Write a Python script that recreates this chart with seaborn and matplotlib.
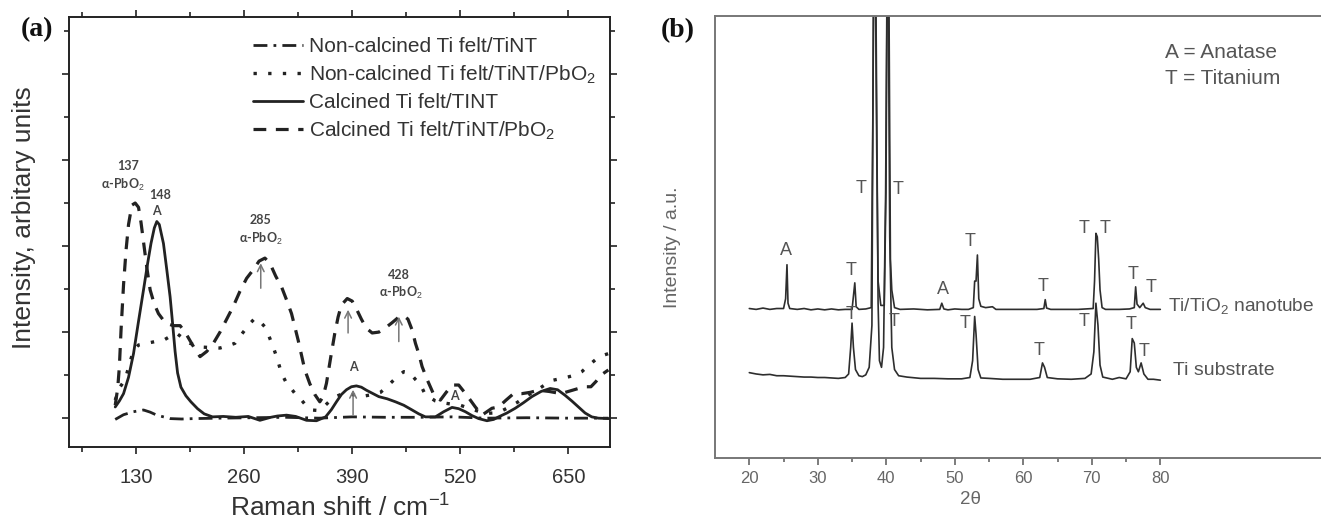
import matplotlib
matplotlib.use("Agg")
import matplotlib.pyplot as plt
import seaborn as sns

# ---------------- Panel (a) data: Raman spectra ----------------
nc_tint_x = [105, 115, 127, 139, 147, 155, 163, 171, 185, 200, 230, 270, 310, 350, 390, 430, 470, 510, 550, 600, 650, 698]
nc_tint_y = [-0.03, 0.08, 0.15, 0.19, 0.14, 0.07, 0.03, -0.01, -0.02, -0.01, 0.0, 0.01, 0.02, 0.0, 0.03, 0.02, 0.02, 0.03, 0.0, 0.01, 0.0, 0.0]

nc_pbo2_x = [105, 110, 117, 122, 127, 133, 143, 153, 163, 171, 179, 187, 195, 203, 211, 221, 231, 240, 249, 255, 261, 267,
             273, 279, 285, 290, 295, 299, 305, 310, 315, 322, 329, 335, 341, 348, 355, 362, 370, 380, 390, 398, 406, 415,
             424, 431, 438, 445, 452, 459, 466, 472, 477, 482, 490, 498, 508, 520, 535, 550, 560, 568, 578, 588, 600, 612,
             622, 631, 641, 650, 658, 666, 674, 682, 690, 698]
nc_pbo2_y = [0.42, 0.7, 0.9, 1.25, 1.58, 1.7, 1.74, 1.78, 1.81, 1.9, 1.97, 1.85, 1.74, 1.68, 1.65, 1.64, 1.63, 1.68, 1.74, 1.9,
             2.05, 2.2, 2.32, 2.25, 2.12, 1.9, 1.65, 1.43, 1.04, 0.85, 0.73, 0.55, 0.42, 0.28, 0.19, 0.18, 0.25, 0.38, 0.5,
             0.58, 0.55, 0.5, 0.52, 0.55, 0.6, 0.72, 0.85, 0.98, 1.08, 1.06, 0.9, 0.78, 0.58, 0.5, 0.4, 0.36, 0.33, 0.3, 0.2,
             0.11, 0.12, 0.15, 0.25, 0.36, 0.52, 0.65, 0.78, 0.88, 0.92, 0.96, 1.0, 1.08, 1.22, 1.35, 1.45, 1.5]

c_tint_x = [105, 110, 115, 121, 127, 133, 139, 144, 148, 152, 155, 158, 163, 167, 171, 174, 177, 180, 184, 190, 196, 204,
            212, 222, 235, 250, 265, 279, 292, 300, 311, 322, 335, 347, 358, 365, 371, 377, 383, 389, 395, 401, 407, 415,
            422, 432, 442, 452, 462, 470, 478, 490, 500, 510, 518, 526, 534, 542, 552, 560, 566, 576, 586, 596, 606, 617,
            628, 637, 646, 654, 662, 670, 678, 686, 699]
c_tint_y = [0.26, 0.4, 0.57, 0.95, 1.5, 2.25, 2.98, 3.6, 4.06, 4.42, 4.57, 4.5, 4.06, 3.45, 2.82, 2.2, 1.55, 1.05, 0.72, 0.52,
            0.38, 0.22, 0.1, 0.03, 0.04, 0.02, 0.04, -0.05, 0.02, 0.05, 0.07, 0.04, -0.05, -0.06, 0.03, 0.2, 0.38, 0.55,
            0.66, 0.73, 0.75, 0.72, 0.65, 0.57, 0.5, 0.45, 0.38, 0.3, 0.19, 0.1, 0.03, 0.03, 0.15, 0.25, 0.22, 0.15, 0.06,
            -0.01, -0.06, -0.03, 0.03, 0.12, 0.23, 0.36, 0.5, 0.62, 0.69, 0.66, 0.53, 0.4, 0.26, 0.12, 0.03, 0.0, -0.01]

c_pbo2_x = [105, 108, 110, 112, 115, 118, 121, 125, 129, 133, 136, 139, 143, 147, 152, 157, 162, 167, 175, 183, 189, 195,
            201, 207, 215, 223, 231, 239, 247, 255, 263, 271, 278, 285, 291, 298, 305, 311, 317, 325, 333, 339, 345, 351,
            355, 359, 364, 369, 373, 377, 384, 390, 396, 401, 407, 414, 422, 430, 438, 446, 452, 457, 462, 466, 470, 474,
            480, 488, 496, 503, 510, 518, 525, 532, 538, 546, 552, 558, 566, 575, 584, 594, 604, 614, 627, 641, 655, 669,
            677, 683, 689, 698]
c_pbo2_y = [0.3, 0.7, 1.2, 2.05, 3.1, 3.9, 4.5, 4.95, 5.0, 4.9, 4.55, 4.1, 3.5, 2.98, 2.65, 2.43, 2.3, 2.2, 2.15, 2.15, 2.0,
            1.8, 1.6, 1.43, 1.55, 1.74, 2.0, 2.3, 2.6, 2.95, 3.25, 3.45, 3.65, 3.72, 3.6, 3.3, 3.05, 2.75, 2.43, 1.81, 1.12,
            0.8, 0.55, 0.38, 0.5, 0.81, 1.4, 1.97, 2.35, 2.63, 2.78, 2.72, 2.5, 2.3, 2.09, 1.98, 2.0, 2.1, 2.22, 2.35, 2.38,
            2.3, 2.05, 1.74, 1.5, 1.2, 0.9, 0.55, 0.42, 0.6, 0.77, 0.77, 0.6, 0.42, 0.26, 0.07, 0.15, 0.23, 0.26, 0.42,
            0.57, 0.57, 0.6, 0.65, 0.62, 0.57, 0.65, 0.73, 0.73, 0.85, 1.0, 1.12]

raman_labels = ["Non-calcined Ti felt/TiNT",
                "Non-calcined Ti felt/TiNT/PbO$_2$",
                "Calcined Ti felt/TINT",
                "Calcined Ti felt/TiNT/PbO$_2$"]

raman_xticks = [130, 260, 390, 520, 650]

# ---------------- Panel (b) data: XRD patterns ----------------
nt_2theta = [20, 21, 22, 23, 24, 25.0, 25.3, 25.5, 25.65, 25.9, 27, 28, 29, 30, 31, 32, 33, 34, 35.0, 35.4, 35.6, 36, 37,
             37.8, 38.05, 38.25, 38.45, 38.6, 38.8, 39.2, 39.7, 39.95, 40.2, 40.4, 40.6, 40.8, 41.2, 42, 44, 46, 47.8,
             48.1, 48.4, 49, 50, 51, 52.0, 52.7, 52.9, 53.1, 53.3, 53.5, 53.8, 54.5, 55.5, 56, 58, 60, 62, 63.0, 63.2,
             63.4, 64, 66, 68, 70.2, 70.4, 70.6, 70.8, 71.0, 71.2, 71.5, 72, 74, 75.5, 76.2, 76.4, 76.6, 77, 77.5, 77.8,
             78.5, 80]
nt_int = [33.8, 33.6, 33.9, 33.6, 33.8, 33.8, 36, 43.7, 35, 33.8, 33.6, 33.8, 33.5, 33.7, 33.5, 33.7, 33.5, 33.6, 33.6,
          39.6, 34.2, 33.6, 33.7, 34.0, 80, 130, 100, 70, 40, 34.5, 34.5, 60, 130, 100, 45, 38, 34, 33.6, 33.7, 33.5, 33.6,
          35, 33.7, 33.5, 33.7, 33.6, 33.6, 34, 40, 40, 45.9, 36, 34.3, 34, 34.2, 33.6, 33.6, 33.6, 33.6, 33.8, 35.8, 33.9,
          33.6, 33.6, 33.6, 33.8, 40, 50.8, 50, 45, 38, 34, 33.6, 33.6, 33.7, 34, 38.7, 34.8, 34, 35, 34, 33.6, 33.6]

sub_2theta = [20, 21, 22, 23, 24, 25, 26, 27, 28, 29, 30, 31, 32, 33, 34, 34.5, 34.8, 35.0, 35.2, 35.5, 36, 36.5, 37,
              37.5, 37.9, 38.2, 38.5, 38.8, 39.0, 39.3, 39.6, 39.9, 40.2, 40.5, 40.8, 41.2, 41.8, 43, 45, 47, 49, 51,
              52.2, 52.6, 52.9, 53.1, 53.4, 53.8, 55, 57, 59, 61, 62.4, 62.8, 63.1, 63.5, 65, 67, 69, 69.9, 70.3, 70.6,
              70.9, 71.2, 71.6, 73, 74, 75, 75.6, 75.9, 76.2, 76.5, 76.8, 77.2, 77.6, 78.2, 79, 80]
sub_int = [19.3, 19.0, 18.8, 18.9, 18.6, 18.6, 18.5, 18.4, 18.3, 18.3, 18.2, 18.2, 18.1, 18.0, 18.2, 19, 25, 30.5, 25,
           20, 18.6, 18.4, 18.8, 20.5, 30, 130, 100, 35, 22, 20.5, 25, 60, 130, 50, 25, 20, 18.6, 18.3, 18.0, 18.0, 17.9,
           17.9, 18.2, 22, 32, 28, 20, 18.1, 18.0, 17.8, 17.8, 17.8, 18.2, 21.5, 20.5, 18.2, 17.9, 17.8, 18.0, 19, 24, 35,
           30, 21, 18.3, 17.8, 18.2, 17.9, 19.5, 27, 26, 20.5, 19.5, 21.5, 19, 17.8, 17.8, 17.6]

xrd_xticks = [20, 30, 40, 50, 60, 70, 80]

# ---------------- Styling ----------------
sns.set_style("ticks")
plt.rcParams["font.family"] = ["Liberation Sans", "DejaVu Sans"]
plt.rcParams["mathtext.fontset"] = "custom"
plt.rcParams["mathtext.rm"] = "Liberation Sans"
plt.rcParams["mathtext.it"] = "Liberation Sans:italic"
plt.rcParams["mathtext.bf"] = "Liberation Sans:bold"

fig = plt.figure(figsize=(13.21, 5.22), dpi=100)
ax1 = fig.add_axes([0.0526, 0.1437, 0.4092, 0.8243])
# panel (b) runs past the right edge of the figure, as in the reference
ax2 = fig.add_axes([0.5413, 0.1226, 0.55, 0.8473])

ink = "#222222"
lw = 2.0
sns.lineplot(x=nc_tint_x, y=nc_tint_y, ax=ax1, color=ink, lw=lw, linestyle=(0, (5, 2.2, 1, 2.2)),
             label=raman_labels[0], errorbar=None)
sns.lineplot(x=nc_pbo2_x, y=nc_pbo2_y, ax=ax1, color=ink, lw=lw + 0.4, linestyle=(0, (1, 3.4)),
             label=raman_labels[1], errorbar=None)
sns.lineplot(x=c_tint_x, y=c_tint_y, ax=ax1, color=ink, lw=lw, linestyle="-",
             label=raman_labels[2], errorbar=None)
sns.lineplot(x=c_pbo2_x, y=c_pbo2_y, ax=ax1, color=ink, lw=lw + 0.3, linestyle=(0, (4, 3)),
             label=raman_labels[3], errorbar=None)

ax1.set_xlim(50, 700)
ax1.set_ylim(-0.67, 9.33)
ax1.set_xticks(raman_xticks)
ax1.set_xticks([65, 195, 325, 455, 585], minor=True)
ax1.set_yticks([0, 2, 4, 6, 8])
ax1.set_yticks([1, 3, 5, 7, 9], minor=True)
ax1.set_yticklabels([])
ax1.tick_params(which="both", direction="out", top=True, right=True, color=ink, width=1.2)
ax1.tick_params(which="major", length=5, labelsize=14.5, labelcolor="#333333", pad=10)
ax1.tick_params(which="minor", length=3.5)
for s in ax1.spines.values():
    s.set_color(ink)
    s.set_linewidth(1.4)
ax1.set_xlabel("Raman shift / cm$^{-1}$", fontsize=19, color="#333333")
ax1.xaxis.set_label_coords(0.5, -0.11)
ax1.set_ylabel("Intensity, arbitary units", fontsize=19, color="#333333")
ax1.yaxis.set_label_coords(-0.062, 0.533)

leg = ax1.legend(loc="upper left", bbox_to_anchor=(0.339, 0.953), frameon=False, fontsize=15,
                 handlelength=2.4, handletextpad=0.3, labelspacing=0.36, borderpad=0, borderaxespad=0)
for t in leg.get_texts():
    t.set_color("#333333")

ann_kw = dict(fontsize=9, fontweight="bold", color="#444444", ha="center", va="center",
              family=["Lato", "DejaVu Sans"])
ax1.text(121, 5.85, "137", **ann_kw)
ax1.text(114, 5.43, "α-PbO$_2$", **ann_kw)
ax1.text(159, 5.19, "148", **ann_kw)
ax1.text(155, 4.81, "A", **ann_kw)
ax1.text(280, 4.6, "285", **ann_kw)
ax1.text(280, 4.16, "α-PbO$_2$", **ann_kw)
ax1.text(446, 3.33, "428", **ann_kw)
ax1.text(449, 2.92, "α-PbO$_2$", **ann_kw)
ax1.text(391, 1.18, "A", **ann_kw)
ax1.text(513, 0.52, "A", **ann_kw)

arrow_kw = dict(arrowstyle="->", color="#777777", lw=1.1, shrinkA=0, shrinkB=0, mutation_scale=12)
for ax_x, y0, y1 in [(280, 3.02, 3.6), (385, 1.98, 2.52), (446, 1.78, 2.36), (391, 0.08, 0.66)]:
    ax1.annotate("", xy=(ax_x, y1), xytext=(ax_x, y0), arrowprops=arrow_kw)

# ---------------- Panel (b) ----------------
xrd_ink = "#2e2e2e"
sns.lineplot(x=nt_2theta, y=nt_int, ax=ax2, color=xrd_ink, lw=1.2, errorbar=None)
sns.lineplot(x=sub_2theta, y=sub_int, ax=ax2, color=xrd_ink, lw=1.2, errorbar=None)
ax2.set_xlim(15, 15 + 0.55 * 1321 / 6.85)
ax2.set_ylim(0, 100)
ax2.set_xticks(xrd_xticks)
ax2.set_xticks([25, 35, 45, 55, 65, 75], minor=True)
ax2.set_yticks([])
gray = "#666666"
ax2.tick_params(which="both", direction="out", bottom=True, left=False, top=False, right=False, color=gray, width=1.2)
ax2.tick_params(which="major", length=5, labelsize=12, labelcolor=gray, pad=4)
ax2.tick_params(which="minor", length=3)
for k, s in ax2.spines.items():
    s.set_color("#777777")
    s.set_linewidth(1.4)
ax2.spines["right"].set_visible(False)
ax2.set_xlabel("2θ", fontsize=13.5, color=gray)
ax2.xaxis.set_label_coords(255 / (0.55 * 1321), -0.075)
ax2.set_ylabel("Intensity / a.u.", fontsize=14, color=gray)
ax2.yaxis.set_label_coords(-34 / (0.55 * 1321), 0.477)

txt_kw = dict(fontsize=13, color="#555555", ha="center", va="center")
peak_labels = [(25.3, 47, "A"), (34.8, 42.5, "T"), (36.3, 61, "T"), (41.7, 60.6, "T"), (48.3, 38, "A"),
               (52.3, 48.9, "T"), (62.9, 38.7, "T"), (68.8, 52, "T"), (72.0, 52, "T"), (76.0, 41.4, "T"),
               (78.7, 38.5, "T"), (34.8, 32.4, "T"), (41.2, 30.8, "T"), (51.5, 30.5, "T"), (62.3, 24.4, "T"),
               (68.8, 30.8, "T"), (75.7, 30.1, "T"), (77.7, 24, "T")]
for px, py, s in peak_labels:
    ax2.text(px, py, s, **txt_kw)

ax2.text(80.7, 91.6, "A = Anatase", fontsize=15, color="#555555", ha="left", va="center")
ax2.text(80.7, 85.9, "T = Titanium", fontsize=15, color="#555555", ha="left", va="center")
ax2.text(81.1, 34.4, "Ti/TiO$_2$ nanotube", fontsize=13.8, color="#555555", ha="left", va="center")
ax2.text(81.9, 19.8, "Ti substrate", fontsize=14, color="#555555", ha="left", va="center")

fig.text(21 / 1321, 1 - 30 / 522, "(a)", fontsize=20, fontweight="bold", family="Liberation Serif",
         ha="left", va="center", color="#111111")
fig.text(661 / 1321, 1 - 31 / 522, "(b)", fontsize=20, fontweight="bold", family="Liberation Serif",
         ha="left", va="center", color="#111111")

fig.savefig("out.png", dpi=100)
